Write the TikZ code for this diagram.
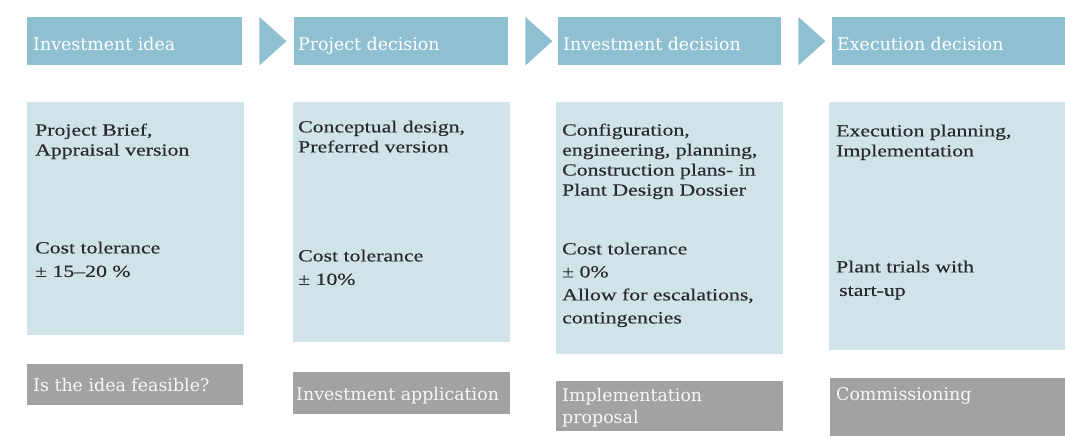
\documentclass[tikz,border=0pt]{standalone}
\usepackage{fontspec}
\setmainfont{Liberation Serif}
\newfontfamily\bodyfont[FakeStretch=1.28,FakeBold=0.3]{Liberation Serif}
\newfontfamily\headfont{DejaVu Serif}
\usetikzlibrary{calc}
\definecolor{hdrblue}{RGB}{142,192,210}
\definecolor{boxblue}{RGB}{207,227,233}
\definecolor{boxgray}{RGB}{160,162,163}
\definecolor{inkdark}{RGB}{40,40,48}

\begin{document}
\begin{tikzpicture}[x=1pt,y=-1pt,
  hdrbox/.style={fill=hdrblue, inner sep=0, anchor=north west, minimum height=48pt},
  midbox/.style={fill=boxblue, inner sep=0, anchor=north west},
  lowbox/.style={fill=boxgray, inner sep=0, anchor=north west},
  hdrtxt/.style={anchor=base west, inner sep=0, text=white, font=\headfont\fontsize{17.4}{22}\selectfont},
  lowtxt/.style={anchor=north west, inner sep=0, align=left, text=white!94!gray, font=\headfont\fontsize{17.4}{22}\selectfont},
  bodytxt/.style={anchor=north west, inner sep=0, align=left, text=inkdark, font=\bodyfont\fontsize{17}{20}\selectfont},
  costtxt/.style={bodytxt, font=\bodyfont\fontsize{17}{23.5}\selectfont},
  chevron/.style={fill=hdrblue}]
\fill[white] (0,0) rectangle (1065,438);
\useasboundingbox (0,0) rectangle (1065,438);

% header row
\node[hdrbox, minimum width=215pt] (h1) at (27,17) {};
\node[hdrbox, minimum width=214pt] (h2) at (294,17) {};
\node[hdrbox, minimum width=223pt] (h3) at (558,17) {};
\node[hdrbox, minimum width=233pt] (h4) at (832,17) {};
\node[hdrtxt] (ht1) at ($(h1.north west)+(6,34)$) {Investment idea};
\node[hdrtxt] (ht2) at ($(h2.north west)+(4,34)$) {Project decision};
\node[hdrtxt] (ht3) at ($(h3.north west)+(5,34)$) {Investment decision};
\node[hdrtxt] (ht4) at ($(h4.north west)+(5,34)$) {Execution decision};

% chevrons between the stages
\foreach \a in {1,2,3}{
  \fill[chevron] ($(h\a.north east)+(17,0)$) -- ($(h\a.east)+(44,0)$) -- ($(h\a.south east)+(17,0)$) -- cycle;
}

% content boxes
\node[midbox, minimum width=217pt, minimum height=233pt] (m1) at (27,102) {};
\node[midbox, minimum width=217pt, minimum height=240pt] (m2) at (293,102) {};
\node[midbox, minimum width=227pt, minimum height=252pt] (m3) at (556,102) {};
\node[midbox, minimum width=236pt, minimum height=248pt] (m4) at (829,102) {};

\node[bodytxt] (d1) at ($(m1.north west)+(8,21.4)$) {Project Brief,\\Appraisal version};
\node[costtxt] (c1) at ($(m1.north west)+(8,139.4)$) {Cost tolerance\\± 15–20 \%};
\node[bodytxt] (d2) at ($(m2.north west)+(5,18.4)$) {Conceptual design,\\Preferred version};
\node[costtxt] (c2) at ($(m2.north west)+(5,147.4)$) {Cost tolerance\\± 10\%};
\node[bodytxt] (d3) at ($(m3.north west)+(6,21.4)$) {Configuration,\\engineering, planning,\\Construction plans- in\\Plant Design Dossier};
\node[bodytxt, font=\bodyfont\fontsize{17}{23}\selectfont] (c3) at ($(m3.north west)+(6,140.4)$) {Cost tolerance\\± 0\%\\Allow for escalations,\\contingencies};
\node[bodytxt] (d4) at ($(m4.north west)+(7,22.4)$) {Execution planning,\\Implementation};
\node[costtxt] (c4) at ($(m4.north west)+(7,158.4)$) {Plant trials with\\\hspace{3pt}start-up};

% outcome boxes
\node[lowbox, minimum width=216pt, minimum height=41pt] (b1) at (27,364) {};
\node[lowbox, minimum width=217pt, minimum height=42pt] (b2) at (293,372) {};
\node[lowbox, minimum width=227pt, minimum height=50pt] (b3) at (556,381) {};
\node[lowbox, minimum width=235pt, minimum height=58pt] (b4) at (830,378) {};
\node[hdrtxt, text=white!94!gray] (bt1) at ($(b1.north west)+(6,27)$) {Is the idea feasible?};
\node[hdrtxt, text=white!94!gray] (bt2) at ($(b2.north west)+(3,28)$) {Investment application};
\node[lowtxt] (bt3) at ($(b3.north west)+(6,7)$) {Implementation\\proposal};
\node[hdrtxt, text=white!94!gray] (bt4) at ($(b4.north west)+(6,22)$) {Commissioning};
\end{tikzpicture}
\end{document}
